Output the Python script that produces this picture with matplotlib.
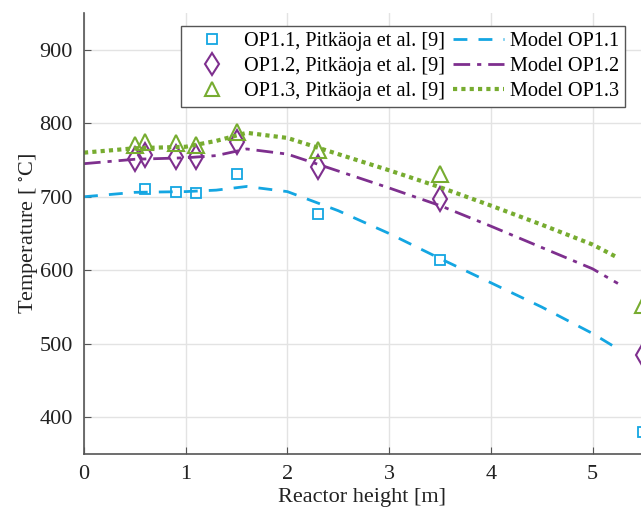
import matplotlib
matplotlib.use("Agg")
import matplotlib.pyplot as plt

plt.rcParams['font.family'] = ['Liberation Serif', 'DejaVu Serif']
plt.rcParams['mathtext.fontset'] = 'stix'

# Measured data (Pitkäoja et al. [9])
h_meas = [0.5, 0.6, 0.9, 1.1, 1.5, 2.3, 3.5, 5.5]
h_meas11 = [0.6, 0.9, 1.1, 1.5, 2.3, 3.5, 5.5]
t_op11 = [710, 706, 705, 731, 676, 614, 380]
t_op12 = [751, 757, 754, 754, 775, 741, 697, 485]
t_op13 = [771, 775, 773, 771, 788, 764, 731, 553]

# Model curves
h_model = [0.0, 0.5, 1.0, 1.3, 1.6, 2.0, 2.5, 3.0, 3.5, 4.0, 4.5, 5.0, 5.25]
m_op11 = [700, 706, 707, 709, 714, 707, 681, 650, 616, 583, 550, 514, 493]
m_op12 = [745, 751, 753, 756, 765, 758, 735, 712, 688, 660, 631, 602, 582]
m_op13 = [760, 766, 768, 776, 787, 780, 758, 736, 713, 688, 662, 635, 617]

c1 = '#14A6E2'
c2 = '#7E2F8E'
c3 = '#77AC30'

fig = plt.figure(figsize=(6.41, 5.13), dpi=100)
ax = fig.add_axes([84/641, 1-454/513, 1-84/641, (454-13)/513])

ax.plot(h_meas11, t_op11, 's', mfc='none', mec=c1, ms=7.5, mew=1.3, clip_on=False,
        label='OP1.1, Pitkäoja et al. [9]')
ax.plot(h_meas, t_op12, 'd', mfc='none', mec=c2, ms=12.5, mew=1.5, clip_on=False,
        label='OP1.2, Pitkäoja et al. [9]')
ax.plot(h_meas, t_op13, '^', mfc='none', mec=c3, ms=11, mew=1.5, clip_on=False,
        label='OP1.3, Pitkäoja et al. [9]')
ax.plot(h_model, m_op11, '--', color=c1, lw=2, dashes=(5, 4), label='Model OP1.1')
ax.plot(h_model, m_op12, '-.', color=c2, lw=2, dashes=(6, 2.5, 1.5, 2.5), label='Model OP1.2')
ax.plot(h_model, m_op13, ':', color=c3, lw=3, dashes=(1, 1), label='Model OP1.3')

ax.set_xlim(0, (641-84)/101.7)
ax.set_ylim(350, 950)
ax.set_xticks([0, 1, 2, 3, 4, 5])
ax.set_yticks([400, 500, 600, 700, 800, 900])
ax.grid(True, color='#e3e3e3', lw=1)
ax.set_axisbelow(True)
for s in ['top', 'right']:
    ax.spines[s].set_visible(False)
for s in ['left', 'bottom']:
    ax.spines[s].set_color('#555555')
    ax.spines[s].set_linewidth(1.2)
ax.tick_params(direction='in', labelsize=16, colors='#555555', labelcolor='#222222',
               length=5, pad=8)
ax.set_xlabel('Reactor height [m]', fontsize=16, color='#222222', labelpad=3)
ax.set_ylabel('Temperature [ $^{\\circ}$C]', fontsize=16, color='#222222', labelpad=-1)

leg = ax.legend(ncol=2, loc='upper left', bbox_to_anchor=((181-84)/557, (454-26)/441),
                borderaxespad=0, fontsize=14.6,
                frameon=True, fancybox=False, edgecolor='#555555', framealpha=1,
                handlelength=2.5, columnspacing=0.4, handletextpad=0.3,
                borderpad=0.3, labelspacing=0.27, markerscale=0.9)
leg.get_frame().set_linewidth(1.0)

fig.savefig('out.png', dpi=100)
